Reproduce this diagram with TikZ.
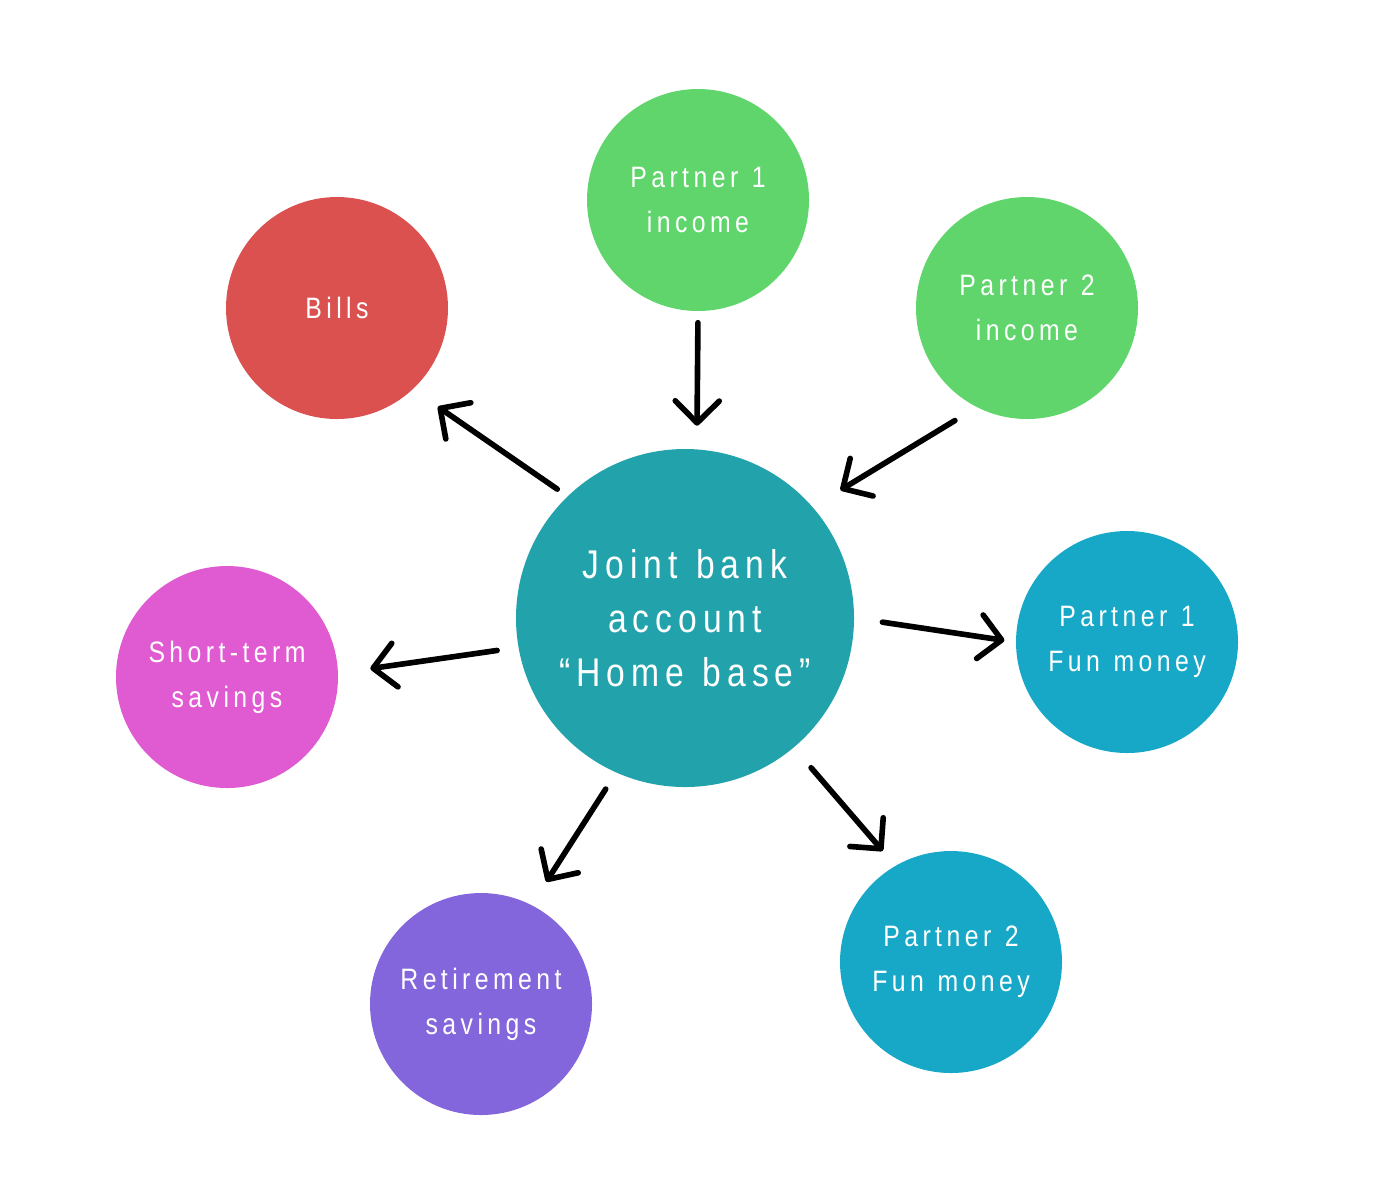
\documentclass[tikz,border=0pt]{standalone}
\usepackage{fontspec}
\usetikzlibrary{arrows.meta}
\newfontfamily\bubblefont{Liberation Sans}[FakeStretch=0.84,LetterSpace=15,WordSpace=1.2]

\definecolor{incomegreen}{HTML}{5FD56B}
\definecolor{billsred}{HTML}{DB5150}
\definecolor{hometeal}{HTML}{22A3AC}
\definecolor{funblue}{HTML}{17A8C8}
\definecolor{savepink}{HTML}{E05AD1}
\definecolor{retirepurple}{HTML}{8366DC}

\tikzset{
  bubble/.style={circle, draw=none, fill=#1, text=white, inner sep=0pt,
    minimum size=2.22cm, align=center, font=\bubblefont\fontsize{8.4}{12.8}\selectfont},
  bigbubble/.style={bubble=#1, minimum size=3.38cm, font=\bubblefont\fontsize{11.4}{15.4}\selectfont},
  flow/.style={line width=1.6pt, line cap=round, line join=round,
    -{Straight Barb[length=2.2mm,width=4.4mm,line cap=round,line join=round]}}
}

\begin{document}
\begin{tikzpicture}
    % 画布大小
    \useasboundingbox (0,0) rectangle (13.84,-12);

    % 中心账户
    \node[bigbubble=hometeal] (joint) at (6.85,-6.18) {Joint bank\\account\\“Home base”};

    % 收入
    \node[bubble=incomegreen] (p1in) at (6.98,-2.00) {Partner 1\\income};
    \node[bubble=incomegreen] (p2in) at (10.27,-3.08) {Partner 2\\income};

    % 支出与储蓄
    \node[bubble=billsred] (bills) at (3.37,-3.08) {Bills};
    \node[bubble=savepink] (short) at (2.27,-6.77) {Short-term\\savings};
    \node[bubble=retirepurple] (retire) at (4.81,-10.04) {Retirement\\savings};
    \node[bubble=funblue] (fun1) at (11.27,-6.42) {Partner 1\\Fun money};
    \node[bubble=funblue] (fun2) at (9.51,-9.62) {Partner 2\\Fun money};

    % 流入箭头
    \draw[flow, shorten <=0.11cm, shorten >=0.23cm] (p1in.270) -- (joint.86);
    \draw[flow, shorten <=0.25cm, shorten >=0.32cm] (p2in.243) -- (joint.41);

    % 流出箭头
    \draw[flow, shorten <=0.12cm, shorten >=0.30cm] (joint.134) -- (bills.313);
    \draw[flow, shorten <=0.21cm, shorten >=0.32cm] (joint.190) -- (short.2);
    \draw[flow, shorten <=0.19cm, shorten >=0.27cm] (joint.246) -- (retire.63);
    \draw[flow, shorten <=0.26cm, shorten >=0.19cm] (joint.310) -- (fun2.120);
    \draw[flow, shorten <=0.28cm, shorten >=0.11cm] (joint.0) -- (fun1.180);

\end{tikzpicture}
\end{document}
